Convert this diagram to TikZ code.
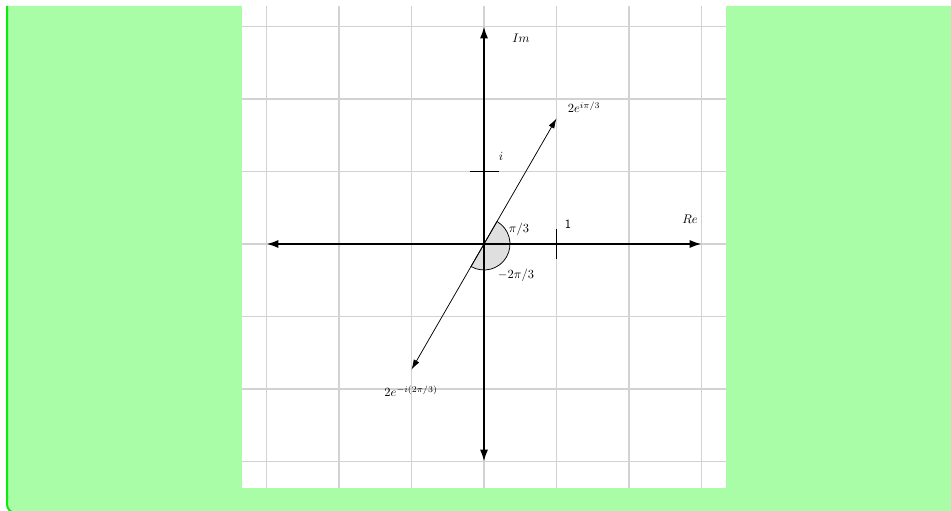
\documentclass[tikz,border=0pt]{standalone}
\usetikzlibrary{arrows.meta}
\definecolor{bggreen}{RGB}{169,253,166}
\definecolor{edgegreen}{RGB}{10,235,10}
\definecolor{gridgray}{RGB}{210,210,210}
\tikzset{
  gridline/.style={draw=gridgray, line width=0.9pt},
  axisline/.style={line width=1.5pt, {Latex[length=9.5pt,width=6.5pt]}-{Latex[length=9.5pt,width=6.5pt]}},
  rayline/.style={line width=0.6pt, {Latex[length=8pt,width=5pt]}-{Latex[length=8pt,width=5pt]}},
  tickline/.style={line width=1.5pt},
  lab/.style={inner sep=1pt}
}
\begin{document}
\begin{tikzpicture}[x=0.8pt,y=0.8pt]
\useasboundingbox (0,0) rectangle (951,510);
% background
\path[fill=bggreen, draw=edgegreen, line width=1.6pt, rounded corners=7]
  (7,504) -- (7,-3) -- (960,-3) -- (960,504);
\fill[white] (242,22) rectangle (726,510);
% grid
\begin{scope}
\clip (242,22) rectangle (726,504);
\foreach \k in {-3,...,3} {
  \draw[gridline] (484+72.5*\k,22) -- (484+72.5*\k,504);
  \draw[gridline] (242,266+72.5*\k) -- (726,266+72.5*\k);
}
\end{scope}
% key points
\coordinate (O) at (484,266);
\coordinate (xl) at (266.5,266);
\coordinate (xr) at (701.5,266);
\coordinate (yb) at (484,48.5);
\coordinate (yt) at (484,483.5);
\coordinate (p1) at (556.5,391.6);
\coordinate (p2) at (411.5,140.4);
\coordinate (ia) at (469.5,338.5);
\coordinate (ib) at (498.5,338.5);
\coordinate (oa) at (556.5,251.5);
\coordinate (ob) at (556.5,280.5);
% angle sector
\filldraw[fill=gray!25, draw=black, line width=0.6pt]
  (O) -- ++(60:26) arc[start angle=60, end angle=-120, radius=26] -- cycle;
% axes and rays
\draw[axisline] (xl) -- (xr);
\draw[axisline] (yb) -- (yt);
\draw[rayline] (p2) -- (p1);
\draw[tickline] (ia) -- (ib);
\draw[tickline] (oa) -- (ob);
% labels
\node[lab] (lim) at (521,472) {$Im$};
\node[lab] (lre) at (690,291) {$Re$};
\node[lab] (lp1) at (584,403) {$2e^{i\pi/3}$};
\node[lab] (lp2) at (411,119) {$2e^{-i(2\pi/3)}$};
\node[lab] (li) at (501,354) {$i$};
\node[lab] (lone) at (568,286) {\textsf{1}};
\node[lab] (la1) at (519,281) {$\pi/3$};
\node[lab] (la2) at (516,235) {$-2\pi/3$};
\end{tikzpicture}
\end{document}
